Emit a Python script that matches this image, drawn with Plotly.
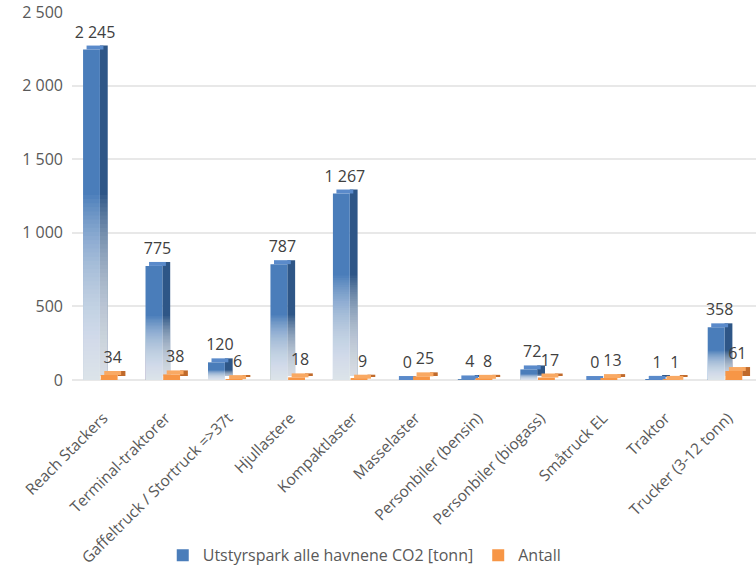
import plotly.graph_objects as go

categories = ["Reach Stackers", "Terminal-traktorer", "Gaffeltruck / Stortruck =>37t",
              "Hjullastere", "Kompaktlaster", "Masselaster", "Personbiler (bensin)",
              "Personbiler (biogass)", "Småtruck EL", "Traktor", "Trucker (3-12 tonn)"]
co2 = [2245, 775, 120, 787, 1267, 0, 4, 72, 0, 1, 358]
antall = [34, 38, 6, 18, 9, 25, 8, 17, 13, 1, 61]
y_ticks = [0, 500, 1000, 1500, 2000, 2500]

x = list(range(len(categories)))
DY = 27          # apparent depth of the 3-D look, in axis units
FW = 0.27        # front face width
SD = 0.125       # side face width
BLUE_OFF = -0.323
ORNG_OFF = -0.04
FONT = "Open Sans"

def fmt(v):
    return f"{v:,}".replace(",", " ")

fig = go.Figure()

def bar3d(vals, off, c_front, c_side, c_top, name, gradient):
    n = len(vals)
    fig.add_trace(go.Bar(x=x, y=vals, base=[DY] * n, offset=off + FW, width=SD,
                         marker=dict(color=c_side, line=dict(width=0)),
                         showlegend=False, hoverinfo="skip"))
    fig.add_trace(go.Bar(x=x, y=vals, offset=off, width=FW, name=name,
                         marker=dict(color=c_front, line=dict(width=0)),
                         hovertemplate="%{y}<extra>" + name + "</extra>"))
    if gradient:
        N = 45
        for k in range(1, N + 1):
            frac = 0.56 * k / N
            fig.add_trace(go.Bar(x=x, y=[v * frac for v in vals], offset=off, width=FW + SD,
                                 marker=dict(color="rgba(255,255,255,0.042)", line=dict(width=0)),
                                 showlegend=False, hoverinfo="skip"))
    fig.add_trace(go.Bar(x=x, y=[DY] * n, base=vals, offset=off + SD * 0.45, width=FW,
                         marker=dict(color=c_top, line=dict(width=0)),
                         text=[fmt(v) for v in vals], textposition="outside",
                         constraintext="none", cliponaxis=False,
                         textfont=dict(family=FONT, size=16, color="#404040"),
                         showlegend=False, hoverinfo="skip"))

bar3d(co2, BLUE_OFF, "#4A7DBA", "#2E5687", "#5A8ACA",
      "Utstyrspark alle havnene CO2 [tonn]", True)
bar3d(antall, ORNG_OFF, "#F79646", "#C06A2B", "#F9A963", "Antall", False)

fig.update_layout(
    barmode="overlay",
    width=756, height=569,
    margin=dict(l=72, r=0, t=12, b=189),
    paper_bgcolor="white", plot_bgcolor="white",
    separators=", ",
    font=dict(family=FONT, size=14, color="#595959"),
    xaxis=dict(range=[-0.5, 10.45], tickmode="array", tickvals=x, ticktext=categories,
               tickangle=-45, showgrid=False, zeroline=False, showline=False,
               ticks="", ticklabelstandoff=25,
               automargin=False, tickfont=dict(family=FONT, size=15.5, color="#595959")),
    yaxis=dict(range=[0, 2500], tickmode="array", tickvals=y_ticks,
               ticktext=[fmt(t) for t in y_ticks],
               showgrid=True, gridcolor="#E8E8E8", gridwidth=1.5,
               zeroline=True, zerolinecolor="#E8E8E8", zerolinewidth=1.5,
               ticks="", ticklabelstandoff=8,
               automargin=False, tickfont=dict(family=FONT, size=16, color="#595959")),
    legend=dict(orientation="h", x=0.428, xanchor="center", xref="paper",
                yref="container", y=0.024, yanchor="middle",
                font=dict(family=FONT, size=16, color="#595959"), itemwidth=30),
    showlegend=True,
)

fig.write_html("out.html")
